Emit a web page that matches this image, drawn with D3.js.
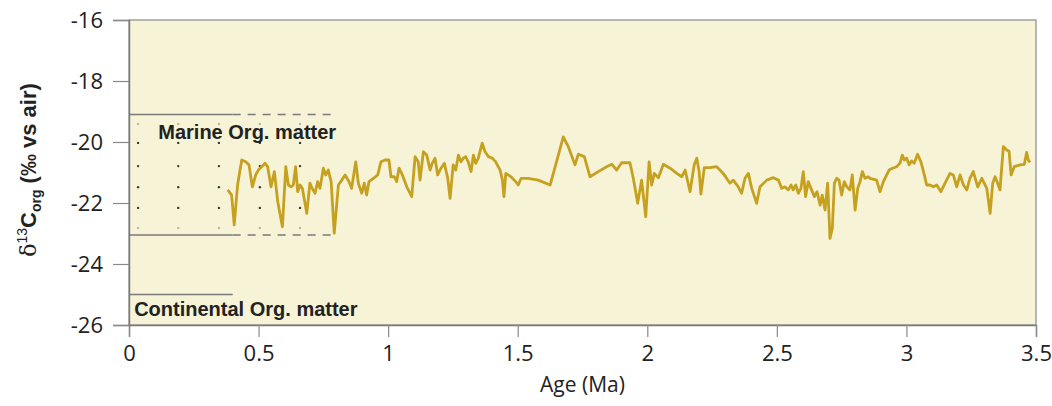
<!DOCTYPE html>
<html>
<head>
<meta charset="utf-8">
<script src="https://cdn.jsdelivr.net/npm/d3@7"></script>
<style>
  body { margin: 0; background: #fff; }
  #chart text { fill: #222; }
</style>
</head>
<body>
<div id="chart"></div>
<script>
//
// d13C org vs age, with marine / continental reference bands
//
const ageMa = [
  0.381, 0.396, 0.406, 0.419, 0.435, 0.450, 0.463, 0.476, 0.489, 0.499,
  0.512, 0.525, 0.535, 0.548, 0.561, 0.574, 0.592, 0.605, 0.615, 0.625,
  0.634, 0.643, 0.651, 0.660, 0.669, 0.686, 0.698, 0.707, 0.718, 0.728,
  0.737, 0.750, 0.759, 0.769, 0.780, 0.792, 0.808, 0.821, 0.834, 0.849,
  0.859, 0.875, 0.885, 0.898, 0.908, 0.917, 0.926, 0.943, 0.960, 0.972,
  0.988, 1.003, 1.011, 1.024, 1.033, 1.042, 1.055, 1.072, 1.091, 1.104,
  1.116, 1.123, 1.136, 1.149, 1.162, 1.170, 1.181, 1.191, 1.204, 1.217,
  1.230, 1.239, 1.251, 1.261, 1.271, 1.281, 1.290, 1.299, 1.309, 1.320,
  1.329, 1.338, 1.348, 1.354, 1.363, 1.374, 1.387, 1.402, 1.415, 1.432,
  1.441, 1.447, 1.454, 1.474, 1.492, 1.502, 1.513, 1.541, 1.579, 1.625,
  1.676, 1.695, 1.721, 1.734, 1.757, 1.779, 1.811, 1.843, 1.863, 1.882,
  1.901, 1.933, 1.946, 1.963, 1.978, 1.994, 2.007, 2.017, 2.027, 2.043,
  2.062, 2.088, 2.114, 2.133, 2.146, 2.165, 2.181, 2.191, 2.200, 2.207,
  2.220, 2.242, 2.268, 2.293, 2.319, 2.332, 2.351, 2.364, 2.377, 2.390,
  2.403, 2.422, 2.435, 2.461, 2.486, 2.506, 2.519, 2.531, 2.544, 2.555,
  2.563, 2.573, 2.583, 2.593, 2.602, 2.611, 2.621, 2.634, 2.645, 2.655,
  2.667, 2.675, 2.686, 2.696, 2.705, 2.714, 2.722, 2.731, 2.740, 2.750,
  2.760, 2.770, 2.782, 2.791, 2.802, 2.812, 2.821, 2.830, 2.840, 2.853,
  2.859, 2.885, 2.898, 2.911, 2.933, 2.946, 2.962, 2.975, 2.984, 2.992,
  3.001, 3.010, 3.020, 3.030, 3.043, 3.056, 3.069, 3.078, 3.091, 3.104,
  3.117, 3.133, 3.149, 3.168, 3.181, 3.194, 3.207, 3.220, 3.233, 3.245,
  3.258, 3.275, 3.291, 3.310, 3.323, 3.333, 3.342, 3.352, 3.361, 3.374,
  3.387, 3.396, 3.404, 3.416, 3.438, 3.455, 3.464, 3.470, 3.477
]
const d13Corg = [
  -21.57, -21.74, -22.72, -21.41, -20.59, -20.65, -20.75, -21.47, -21.08, -20.92,
  -20.81, -20.70, -20.81, -21.47, -20.97, -21.96, -22.78, -20.81, -21.41, -21.47,
  -21.41, -20.81, -21.63, -21.41, -21.52, -22.34, -21.35, -21.52, -21.68, -21.30,
  -21.52, -20.86, -21.08, -20.92, -21.30, -22.99, -21.41, -21.25, -21.08, -21.30,
  -21.52, -20.65, -21.35, -21.68, -21.35, -21.74, -21.30, -21.19, -21.08, -20.65,
  -20.59, -20.59, -21.14, -21.14, -21.30, -20.86, -21.08, -21.47, -21.79, -20.48,
  -20.65, -21.25, -20.32, -20.43, -20.92, -20.70, -20.53, -21.08, -20.86, -20.70,
  -21.19, -21.85, -20.75, -20.92, -20.43, -20.65, -20.53, -20.48, -20.65, -20.97,
  -20.43, -20.70, -20.53, -20.32, -20.04, -20.32, -20.48, -20.53, -20.65, -20.92,
  -21.25, -21.79, -21.03, -21.14, -21.30, -21.41, -21.19, -21.19, -21.25, -21.41,
  -19.83, -20.15, -20.75, -20.40, -20.48, -21.14, -20.97, -20.81, -20.73, -20.92,
  -20.68, -20.68, -21.19, -22.01, -21.25, -22.45, -20.65, -21.41, -21.03, -21.17,
  -20.73, -20.86, -21.03, -21.14, -20.92, -21.63, -20.75, -20.53, -20.97, -21.71,
  -20.84, -20.84, -20.81, -21.03, -21.35, -21.25, -21.47, -21.68, -21.19, -21.03,
  -21.52, -22.01, -21.47, -21.25, -21.17, -21.25, -21.52, -21.47, -21.57, -21.41,
  -21.57, -21.41, -21.68, -21.52, -20.97, -21.79, -21.30, -21.57, -21.79, -21.63,
  -22.07, -21.74, -22.23, -21.35, -23.16, -22.83, -21.35, -21.19, -21.25, -21.74,
  -21.30, -21.47, -21.57, -21.08, -22.23, -21.52, -21.30, -20.97, -21.19, -21.14,
  -21.19, -21.25, -21.63, -21.30, -20.92, -20.86, -20.81, -20.70, -20.43, -20.59,
  -20.53, -20.75, -20.62, -20.70, -20.40, -20.65, -21.08, -21.41, -21.41, -21.47,
  -21.41, -21.63, -21.35, -21.03, -21.08, -21.47, -21.08, -21.41, -21.57, -21.19,
  -20.97, -21.47, -21.19, -21.52, -22.34, -21.35, -21.14, -21.35, -21.57, -20.15,
  -20.26, -20.30, -21.08, -20.81, -20.75, -20.73, -20.34, -20.59, -20.67
]
// reference ranges (per mil)
const marineRange = [-19.1, -23.05]
const continentalTop = -25.0
const refSolidEnd = 0.4
const refDashedEnd = 0.79
// dotted pattern inside marine band
const dotAges = [0.035, 0.19, 0.347, 0.505, 0.66]
const dotValues = [-19.41, -20.03, -20.79, -21.48, -22.16, -22.82]
// axes
const xTicks = [0, 0.5, 1, 1.5, 2, 2.5, 3, 3.5]
const yTicks = [-26, -24, -22, -20, -18, -16]

const W = 1052
const H = 406
const margin = { top: 20, right: 16, bottom: 81, left: 129 }
const width = W - margin.left - margin.right
const height = H - margin.top - margin.bottom

const svg = d3.select('#chart').append('svg')
  .attr('width', W)
  .attr('height', H)
const g = svg.append('g')
  .attr('transform', 'translate(' + margin.left + ',' + margin.top + ')')

const x = d3.scaleLinear().domain([0, 3.5]).range([0, width])
const y = d3.scaleLinear().domain([-26, -16]).range([height, 0])

// plot background
g.append('rect')
  .attr('width', width)
  .attr('height', height)
  .attr('fill', '#f6f3d7')
  .attr('stroke', '#8a8a8a')
  .attr('stroke-width', 1.2)

// dots in marine band
const dots = []
dotAges.forEach(a => dotValues.forEach((v, i) => dots.push({ a, v, edge: i === 0 || i === dotValues.length - 1 })))
g.append('g').selectAll('circle')
  .data(dots)
  .enter().append('circle')
  .attr('cx', d => x(d.a))
  .attr('cy', d => y(d.v))
  .attr('r', 1.2)
  .attr('fill', d => d.edge ? '#b9b7a0' : '#3a3a3a')

// reference lines
const refs = g.append('g').attr('stroke', '#7a7a7a').attr('stroke-width', 1.4)
marineRange.forEach(v => {
  refs.append('line')
    .attr('x1', x(0)).attr('x2', x(refSolidEnd))
    .attr('y1', y(v)).attr('y2', y(v))
  refs.append('line')
    .attr('x1', x(refSolidEnd)).attr('x2', x(refDashedEnd))
    .attr('y1', y(v)).attr('y2', y(v))
    .attr('stroke-dasharray', '8,7')
})
refs.append('line')
  .attr('x1', x(0)).attr('x2', x(refSolidEnd))
  .attr('y1', y(continentalTop)).attr('y2', y(continentalTop))

g.append('text')
  .attr('x', x(0.113))
  .attr('y', y(-19.9))
  .style('font-family', 'Liberation Sans, Arial, sans-serif')
  .style('font-weight', 'bold')
  .style('font-size', '20px')
  .text('Marine Org. matter')
g.append('text')
  .attr('x', x(0.02))
  .attr('y', y(-25.72))
  .style('font-family', 'Liberation Sans, Arial, sans-serif')
  .style('font-weight', 'bold')
  .style('font-size', '20px')
  .text('Continental Org. matter')

// data line
const line = d3.line()
  .x(d => x(d[0]))
  .y(d => y(d[1]))
g.append('path')
  .datum(ageMa.map((a, i) => [a, d13Corg[i]]))
  .attr('fill', 'none')
  .attr('stroke', '#c6a11f')
  .attr('stroke-width', 2.8)
  .attr('stroke-linejoin', 'round')
  .attr('d', line)

// axes
const xAxis = g.append('g')
  .attr('transform', 'translate(0,' + height + ')')
  .call(d3.axisBottom(x).tickValues(xTicks).tickSize(12).tickPadding(8).tickFormat(d3.format('~g')))
const yAxis = g.append('g')
  .call(d3.axisLeft(y).tickValues(yTicks).tickSize(16).tickPadding(10).tickFormat(d3.format('~g')))
;[xAxis, yAxis].forEach(ax => {
  ax.select('.domain').attr('stroke', '#7a7a7a').attr('stroke-width', 1.4)
  ax.selectAll('.tick line').attr('stroke', '#8a8a8a').attr('stroke-width', 1.2)
  ax.selectAll('.tick text')
    .style('font-family', 'Open Sans, sans-serif')
    .style('font-size', '22px')
    .attr('fill', '#222')
})
// minus sign as hyphen like the original
yAxis.selectAll('.tick text').text(d => String(d).replace('\u2212', '-'))

// axis titles
svg.append('text')
  .attr('x', margin.left + x(1.75))
  .attr('y', 392)
  .attr('text-anchor', 'middle')
  .style('font-family', 'Open Sans, sans-serif')
  .style('font-size', '21px')
  .text('Age (Ma)')

const yLabel = svg.append('text')
  .attr('transform', 'translate(36,170) rotate(-90)')
  .attr('text-anchor', 'middle')
  .style('font-family', 'Liberation Sans, Arial, sans-serif')
  .style('font-size', '22px')
  .style('font-weight', 'bold')
yLabel.append('tspan').style('font-weight', 'normal').style('font-family', 'DejaVu Serif, serif').text('\u03B4')
yLabel.append('tspan').attr('dy', -9).style('font-size', '14px').style('font-weight', 'normal').text('13')
yLabel.append('tspan').attr('dy', 9).text('C')
yLabel.append('tspan').attr('dy', 5).style('font-size', '14px').text('org')
yLabel.append('tspan').attr('dy', -5).text(' (\u2030 vs air)')
</script>
</body>
</html>
